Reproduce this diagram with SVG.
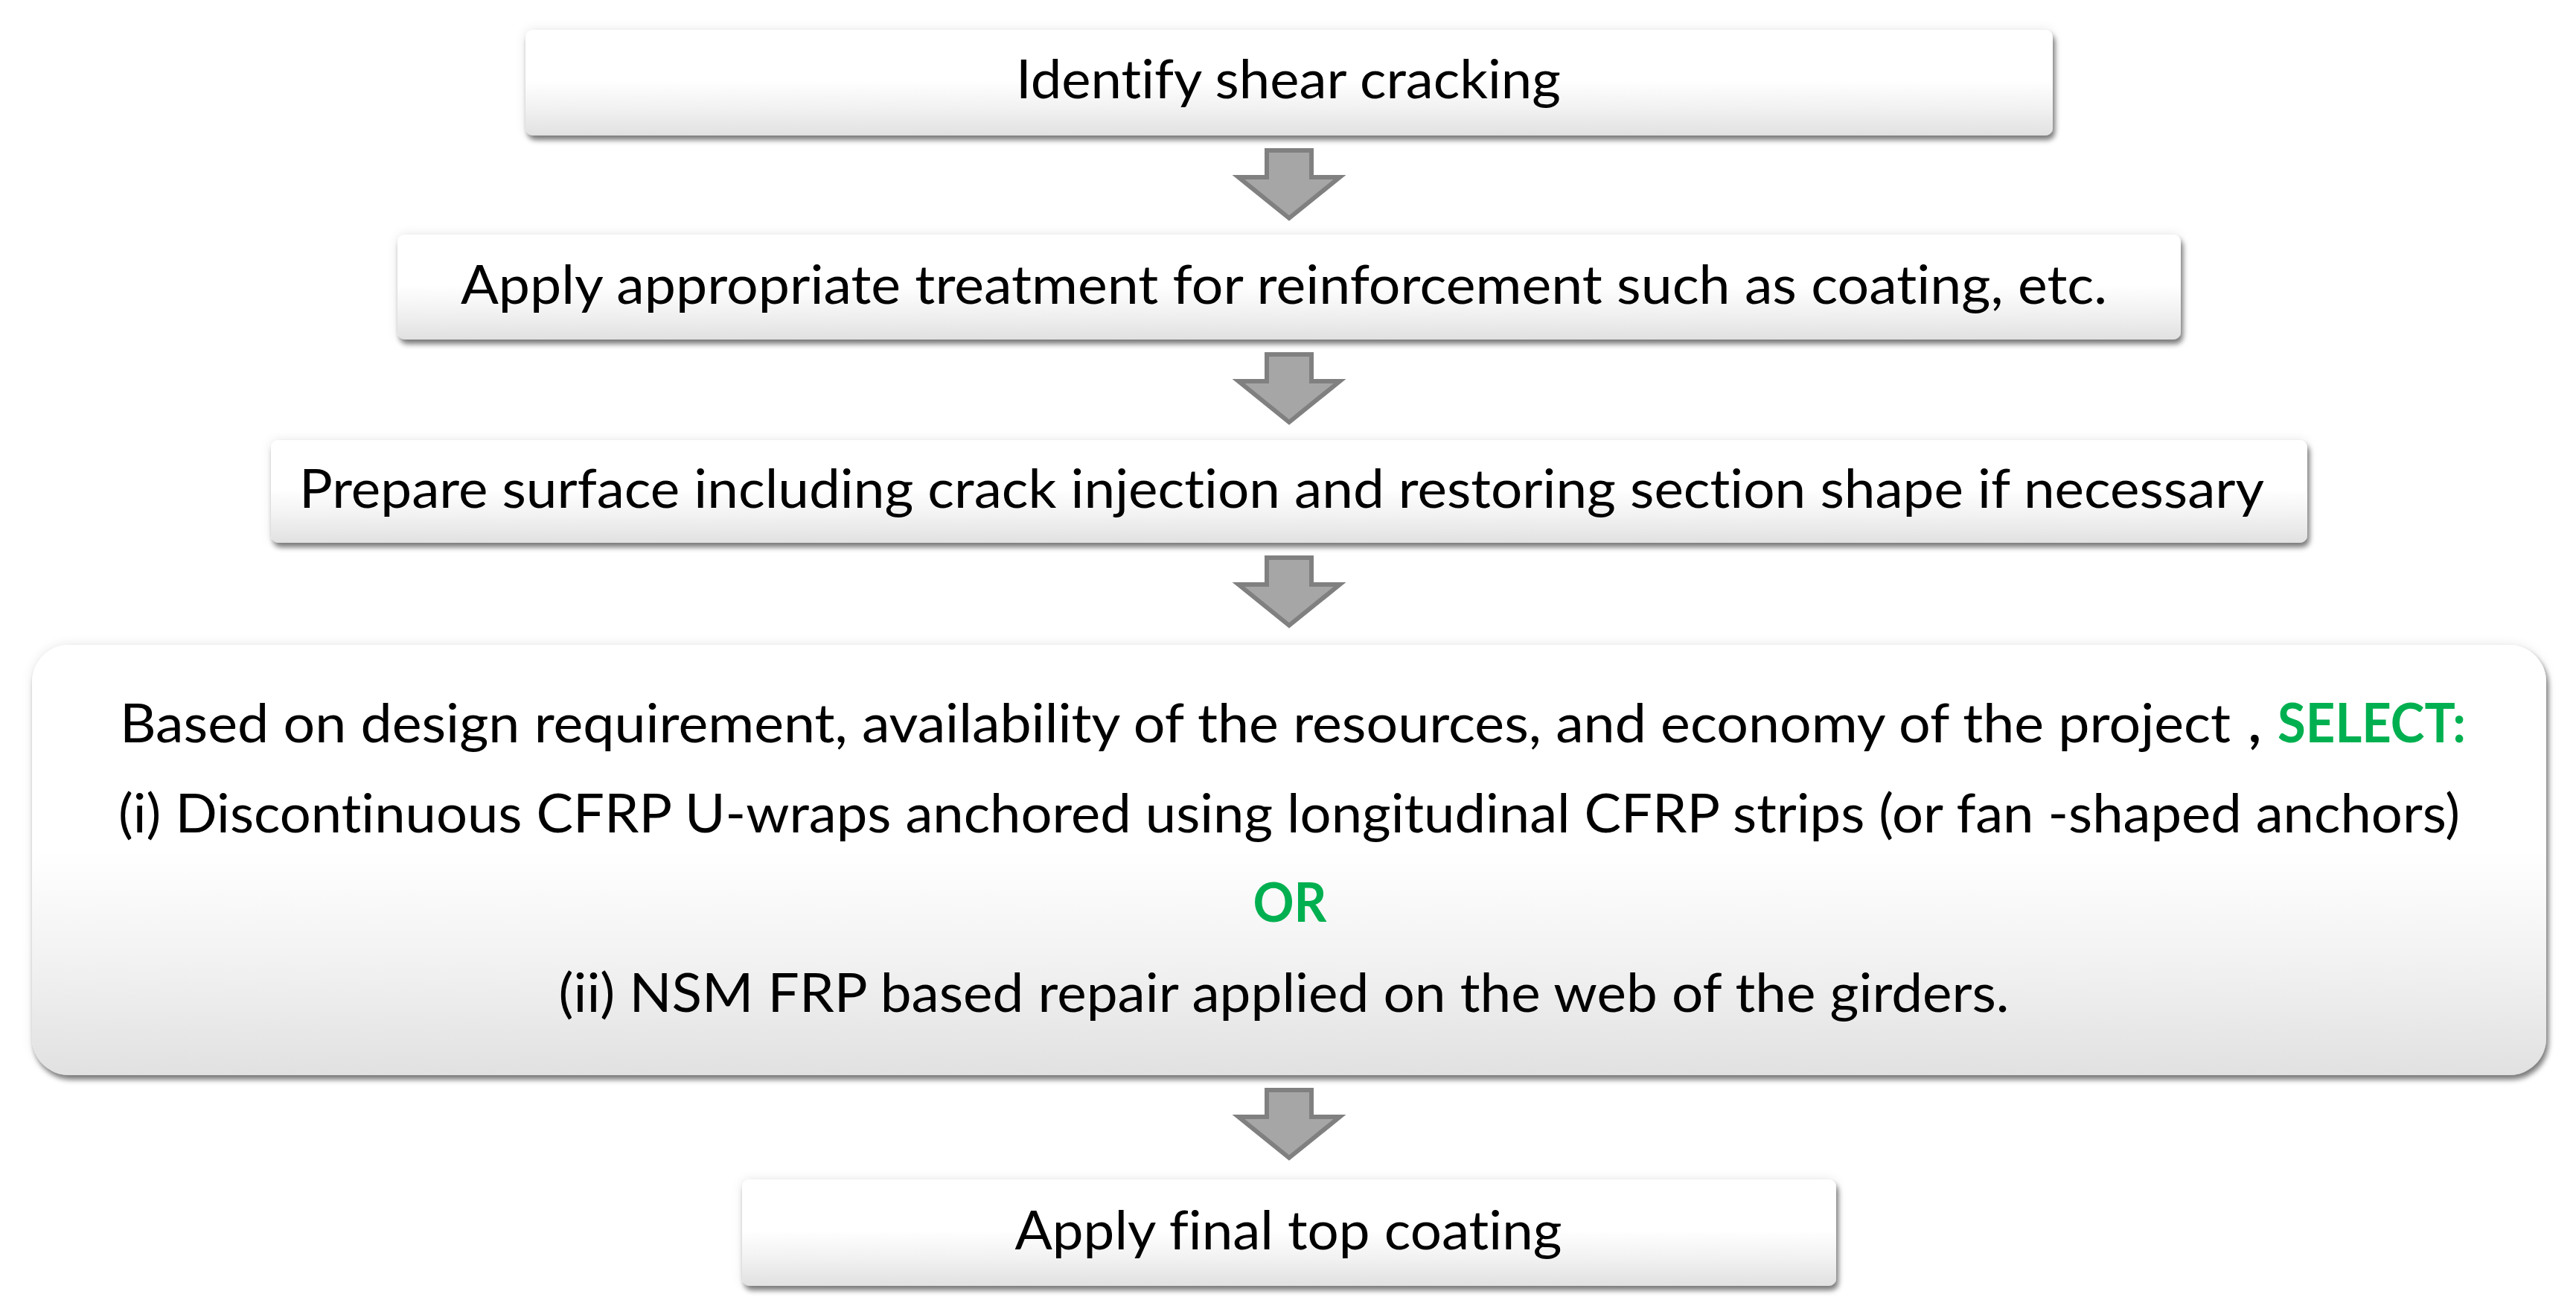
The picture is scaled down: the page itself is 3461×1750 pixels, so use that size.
<svg xmlns="http://www.w3.org/2000/svg" width="3461" height="1750" viewBox="0 0 3461 1750">
<style>
.txt{font-family:Lato,"Open Sans","Liberation Sans",sans-serif;font-size:72px;fill:#000;font-variant-ligatures:none;font-feature-settings:"liga" 0,"clig" 0,"dlig" 0}
.b{font-weight:bold}
.green{fill:#00b050}
.box{fill:url(#boxgrad);filter:url(#sh)}
.arrow{fill:#a6a6a6;stroke:#808080;stroke-width:6;stroke-linejoin:miter}
</style>
<defs>
<linearGradient id="boxgrad" x1="0" y1="0" x2="0" y2="1">
<stop offset="0" stop-color="#ffffff"/>
<stop offset="0.48" stop-color="#ffffff"/>
<stop offset="0.75" stop-color="#f1f1f1"/>
<stop offset="1" stop-color="#e1e1e1"/>
</linearGradient>
<filter id="sh" x="-5%" y="-20%" width="110%" height="150%">
<feGaussianBlur in="SourceAlpha" stdDeviation="7" result="glow"/>
<feFlood flood-color="#000" flood-opacity="0.10"/>
<feComposite in2="glow" operator="in" result="g2"/>
<feGaussianBlur in="SourceAlpha" stdDeviation="3.5" result="b"/>
<feOffset in="b" dx="3" dy="6" result="o"/>
<feFlood flood-color="#000" flood-opacity="0.5"/>
<feComposite in2="o" operator="in" result="s"/>
<feMerge><feMergeNode in="g2"/><feMergeNode in="s"/><feMergeNode in="SourceGraphic"/></feMerge>
</filter>
</defs>
<rect width="3461" height="1750" fill="#ffffff"/>

<g id="connectors">
<path class="arrow" d="M1702,202 H1762 V238 H1800 L1732,293 L1664,238 H1702 Z"/>
<path class="arrow" d="M1702,476 H1762 V512 H1800 L1732,567 L1664,512 H1702 Z"/>
<path class="arrow" d="M1702,749 H1762 V785 H1800 L1732,840 L1664,785 H1702 Z"/>
<path class="arrow" d="M1702,1464 H1762 V1500 H1800 L1732,1555 L1664,1500 H1702 Z"/>
</g>

<g id="node1">
<rect class="box" x="706" y="40" width="2052" height="142" rx="10"/>
<text class="txt" x="1731" y="132" text-anchor="middle" textLength="732" lengthAdjust="spacingAndGlyphs">Identify shear cracking</text>
</g>

<g id="node2">
<rect class="box" x="534" y="315" width="2396" height="141" rx="10"/>
<text class="txt" x="1725" y="408" text-anchor="middle" textLength="2212" lengthAdjust="spacingAndGlyphs">Apply appropriate treatment for reinforcement such as coating, etc.</text>
</g>

<g id="node3">
<rect class="box" x="364" y="591" width="2736" height="138" rx="10"/>
<text class="txt" x="1722" y="682" text-anchor="middle" textLength="2640" lengthAdjust="spacingAndGlyphs">Prepare surface including crack injection and restoring section shape if necessary</text>
</g>

<g id="node4">
<rect class="box" x="43" y="866" width="3378" height="578" rx="50"/>
<text class="txt" x="161" y="997" textLength="2836" lengthAdjust="spacingAndGlyphs">Based on design requirement, availability of the resources, and economy of the project</text>
<text class="txt b" x="3021" y="997">,</text>
<text class="txt b green" x="3060" y="997" textLength="253" lengthAdjust="spacingAndGlyphs">SELECT:</text>
<text class="txt" x="159" y="1118" textLength="3146" lengthAdjust="spacingAndGlyphs">(i) Discontinuous CFRP U-wraps anchored using longitudinal CFRP strips (or fan -shaped anchors)</text>
<text class="txt b green" x="1733" y="1238" text-anchor="middle" textLength="99" lengthAdjust="spacingAndGlyphs">OR</text>
<text class="txt" x="1725" y="1359" text-anchor="middle" textLength="1949" lengthAdjust="spacingAndGlyphs">(ii) NSM FRP based repair applied on the web of the girders.</text>
</g>

<g id="node5">
<rect class="box" x="997" y="1584" width="1470" height="143" rx="10"/>
<text class="txt" x="1731" y="1678" text-anchor="middle" textLength="735" lengthAdjust="spacingAndGlyphs">Apply final top coating</text>
</g>
</svg>
